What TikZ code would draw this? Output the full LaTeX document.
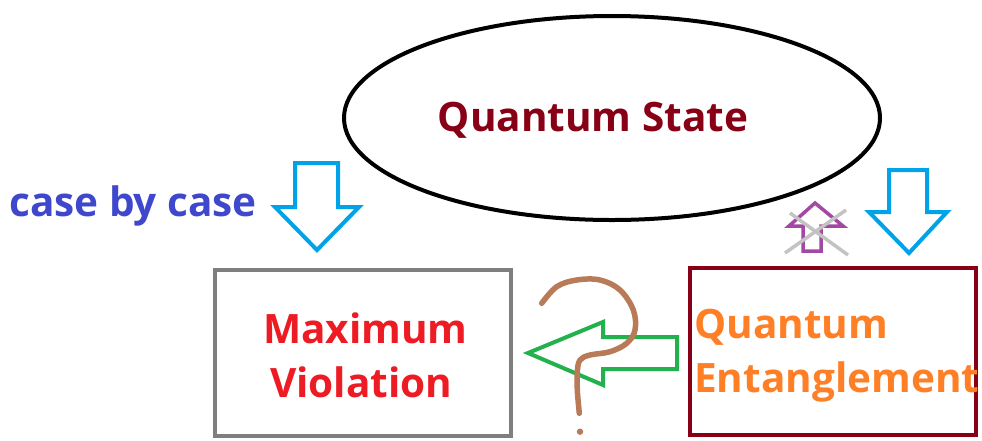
\documentclass[tikz,border=0pt]{standalone}
\usepackage{fontspec}
\setmainfont{Open Sans}
\usetikzlibrary{shapes.geometric}
\definecolor{qsred}{HTML}{880015}
\definecolor{mvred}{HTML}{ED1C24}
\definecolor{qeorange}{HTML}{FF7F27}
\definecolor{cbblue}{HTML}{3F48CC}
\definecolor{arrblue}{HTML}{00A2E8}
\definecolor{arrpurple}{HTML}{A349A4}
\definecolor{crossgray}{HTML}{C3C3C3}
\definecolor{arrgreen}{HTML}{22B14C}
\definecolor{qbrown}{HTML}{B97A57}
\definecolor{boxgray}{HTML}{7F7F7F}
\tikzset{
  lbl/.style={font=\bfseries\fontsize{40.5}{54}\selectfont, inner sep=0pt},
  boxshape/.style={draw, line width=4pt, rectangle, inner sep=0pt},
  blockarrow/.style={line width=4pt, line join=miter, fill=white},
}
\begin{document}
\begin{tikzpicture}[x=1pt,y=-1pt]
\useasboundingbox (0,0) rectangle (982,440);
% ellipse
\node[draw, ellipse, line width=4pt, minimum width=536pt, minimum height=204pt, inner sep=0pt] (state) at (612,118) {};
\node[lbl, text=qsred] (statetxt) at (593,120) {Quantum State};
% boxes
\node[boxshape, draw=boxgray, minimum width=296pt, minimum height=166pt] (mv) at (363,353) {};
\node[boxshape, draw=qsred, minimum width=286pt, minimum height=167pt] (qe) at (833,351.5) {};
\node[lbl, text=mvred, align=left, anchor=west] (mvtxt) at (263,355) {Maximum\\\hspace*{7pt}Violation};
\node[lbl, text=qeorange, align=left, anchor=west] (qetxt) at (694,356) {Quantum\\Entanglement};
\node[lbl, text=cbblue, anchor=west] (cbc) at (9,206) {case by case};
% blue down arrows
\draw[blockarrow, draw=arrblue] (295,163) -- (338,163) -- (338,207) -- (359,207) -- (317,250) -- (275,207) -- (295,207) -- cycle;
\draw[blockarrow, draw=arrblue] (889,170) -- (927,170) -- (927,212) -- (947,212) -- (909,253) -- (869,212) -- (889,212) -- cycle;
% purple up arrow
\draw[blockarrow, draw=arrpurple, line width=3.5pt] (803,251) -- (821,251) -- (821,226) -- (843,226) -- (815,203) -- (789,226) -- (803,226) -- cycle;
% cross
\draw[crossgray, line width=3.5pt] (785,253) -- (846,210);
\draw[crossgray, line width=3.5pt] (790,213) -- (848,255);
% green left arrow
\draw[blockarrow, draw=arrgreen, fill=none] (528,353) -- (603,322) -- (603,337) -- (677,337) -- (677,369) -- (603,369) -- (603,385) -- cycle;
% question mark
\draw[qbrown, line width=5.5pt, line cap=round, line join=round] plot[smooth, tension=0.6] coordinates {(541.7,303.3) (556.7,286.7) (576.7,280) (600,280) (620,290) (633.3,310) (635,330) (626.7,343.3) (610,351.7) (590,355) (580,360) (577.3,372) (577.3,390) (579.3,413.3)};
\fill[qbrown] (580,431.7) circle (3.2pt);
\end{tikzpicture}
\end{document}
